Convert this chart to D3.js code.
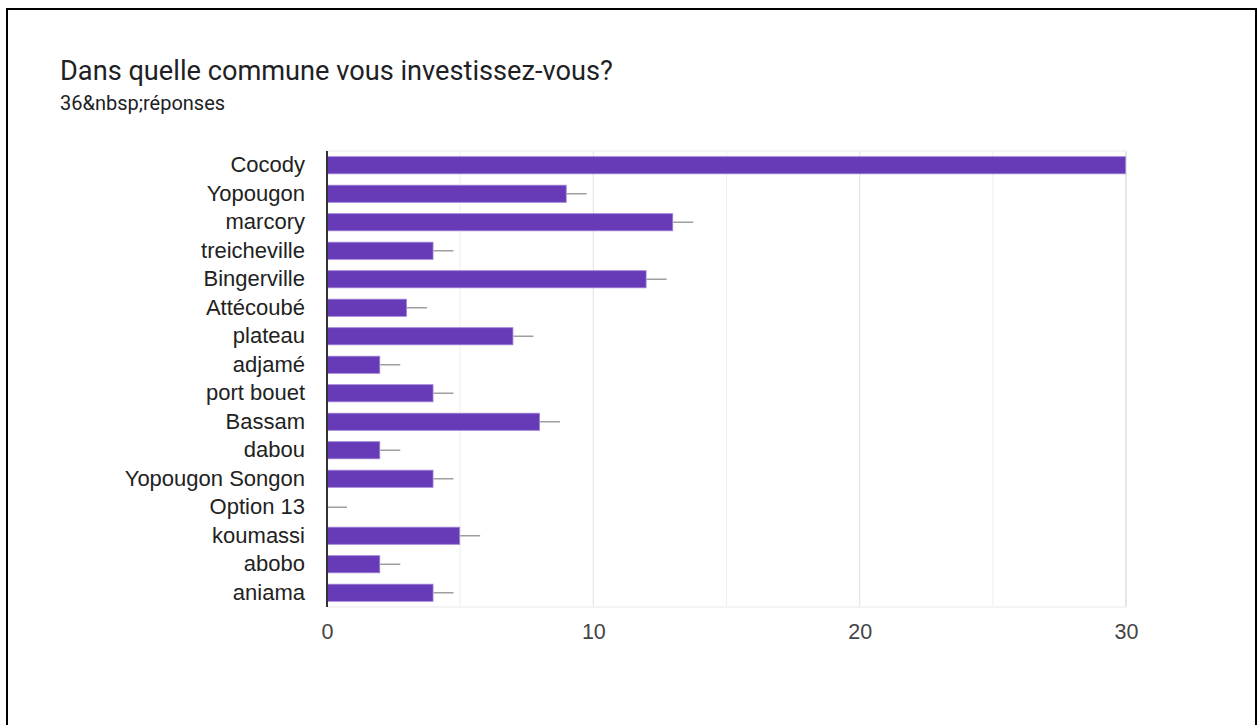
<!DOCTYPE html>
<html><head><meta charset="utf-8">
<script src="https://cdn.jsdelivr.net/npm/d3@7"></script>
<style>
html,body{margin:0;padding:0;background:#fff;}
svg{display:block;}
</style></head>
<body>
<svg id="c" width="1258" height="725"></svg>
<script>
const categories = ["Cocody","Yopougon","marcory","treicheville","Bingerville","Attécoubé","plateau","adjamé","port bouet","Bassam","dabou","Yopougon Songon","Option 13","koumassi","abobo","aniama"];
const values = [30,9,13,4,12,3,7,2,4,8,2,4,0,5,2,4];
const tickLabels = [0,10,20,30];
const gridTicks = [0,5,10,15,20,25,30];
const title = "Dans quelle commune vous investissez-vous?";
const subtitle = "36&nbsp;réponses";

const svg = d3.select("#c");
// outer border
svg.append("rect").attr("x",7).attr("y",9).attr("width",1249).attr("height",730)
  .attr("fill","none").attr("stroke","#000").attr("stroke-width",2);

svg.append("text").attr("x",60).attr("y",80).text(title)
  .attr("font-family","Roboto, 'Open Sans', sans-serif").attr("font-size",27.2).attr("fill","#202124");
svg.append("text").attr("x",60).attr("y",110).text(subtitle)
  .attr("font-family","Roboto, sans-serif").attr("font-size",20).attr("fill","#202124");

const x = d3.scaleLinear().domain([0,30]).range([327,1126]);
const y = d3.scaleBand().domain(categories).range([151,607]).paddingInner(0.4).paddingOuter(0.2);

svg.append("clipPath").attr("id","plot").append("rect")
  .attr("x",x(0)).attr("y",140).attr("width",x(30)-x(0)).attr("height",480);

const g = svg.append("g");
// gridlines
g.selectAll("line.grid").data(gridTicks.filter(d=>d>0)).join("line")
  .attr("x1",d=>x(d)).attr("x2",d=>x(d)).attr("y1",151).attr("y2",607)
  .attr("stroke", d=> d%10===0 ? "#e6e6e6" : "#f1f1f1").attr("stroke-width",d=>d===30?2:1.2);
g.append("line").attr("x1",x(0)).attr("x2",x(30)).attr("y1",151).attr("y2",151).attr("stroke","#f0f0f0").attr("stroke-width",1.5);
g.append("line").attr("x1",x(0)).attr("x2",x(30)).attr("y1",607).attr("y2",607).attr("stroke","#f0f0f0").attr("stroke-width",1.5);

// whiskers
g.append("g").attr("clip-path","url(#plot)").selectAll("line").data(categories).join("line")
  .attr("x1",(d,i)=>x(values[i])).attr("x2",(d,i)=>x(values[i])+20)
  .attr("y1",d=>y(d)+y.bandwidth()/2).attr("y2",d=>y(d)+y.bandwidth()/2)
  .attr("stroke","#9e9e9e").attr("stroke-width",1.5);

// bars
g.selectAll("rect.bar").data(categories).join("rect")
  .attr("x",x(0)+0.5).attr("y",d=>y(d))
  .attr("width",(d,i)=>Math.max(0,x(values[i])-x(0)-1)).attr("height",y.bandwidth())
  .attr("fill","#673ab7").attr("stroke",(d,i)=>values[i]>0?"#9e7fd6":"none").attr("stroke-width",0.8);

// zero axis
g.append("line").attr("x1",x(0)).attr("x2",x(0)).attr("y1",151).attr("y2",607).attr("stroke","#333").attr("stroke-width",2);

// y labels
const yAxis = d3.axisLeft(y).tickSize(0).tickPadding(22);
const ya = svg.append("g").attr("transform",`translate(${x(0)},0)`).call(yAxis);
ya.select(".domain").remove();
ya.selectAll("text").attr("font-family","'Liberation Sans', Arial, sans-serif").attr("font-size",22).attr("fill","#222");

// x labels
const xAxis = d3.axisBottom(x).tickValues(tickLabels).tickSize(0).tickPadding(17);
const xa = svg.append("g").attr("transform","translate(0,607)").call(xAxis);
xa.select(".domain").remove();
xa.selectAll("text").attr("font-family","'Liberation Sans', Arial, sans-serif").attr("font-size",21.5).attr("fill","#444");
</script>
</body></html>
